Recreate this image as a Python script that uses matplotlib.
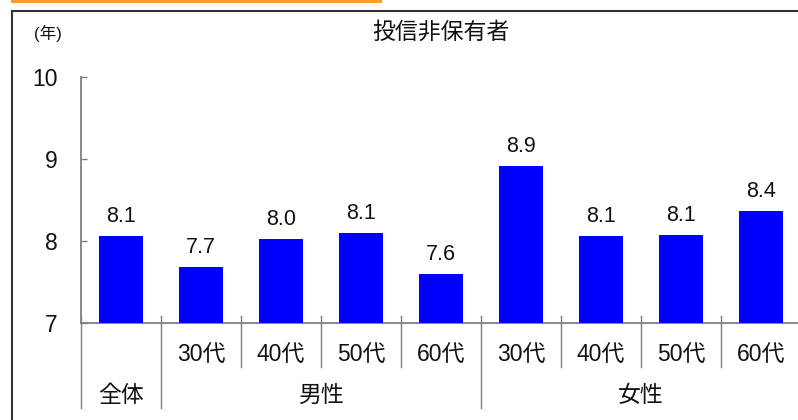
import matplotlib
matplotlib.use("Agg")
import matplotlib.pyplot as plt
from matplotlib.lines import Line2D
import matplotlib.transforms as mtransforms

plt.rcParams['font.family'] = ['Liberation Sans', 'Noto Sans CJK JP', 'DejaVu Sans']

# Data
title = "投信非保有者"
unit_label = "(年)"
age_labels = ["", "30代", "40代", "50代", "60代", "30代", "40代", "50代", "60代"]
group_labels = ["全体", "男性", "女性"]
group_spans = [(0, 0), (1, 4), (5, 8)]
values = [8.06, 7.68, 8.02, 8.10, 7.60, 8.91, 8.06, 8.07, 8.37]
y_ticks = [7, 8, 9, 10]

W, H, DPI = 798, 420, 100
fig = plt.figure(figsize=(W / DPI, H / DPI), dpi=DPI)

# Axes area in pixel terms
ax_left, ax_right, ax_top, ax_bottom = 81, 801, 77, 323
ax = fig.add_axes([ax_left / W, (H - ax_bottom) / H,
                   (ax_right - ax_left) / W, (ax_bottom - ax_top) / H])

x = list(range(len(values)))
ax.bar(x, [v - 7 for v in values], bottom=7, width=0.56, color='#0000FF', zorder=3)

for xi, v in zip(x, values):
    ax.annotate(f"{v:.1f}", (xi, v), xytext=(0, 10), textcoords='offset points',
                ha='center', va='baseline', fontsize=15.5, color='#111111')

ax.set_xlim(-0.5, len(values) - 0.5)
ax.set_ylim(7, 10)
ax.set_yticks(y_ticks)
ax.set_yticklabels([str(t) for t in y_ticks], fontsize=16.5)
ax.set_xticks([])

for s in ['top', 'right']:
    ax.spines[s].set_visible(False)
for s in ['left', 'bottom']:
    ax.spines[s].set_color('#808080')
    ax.spines[s].set_linewidth(1.3)
ax.tick_params(axis='y', direction='in', length=4.5, width=1, color='#808080',
               pad=17, labelcolor='#111111')

# Category separators below the axis
trans = mtransforms.blended_transform_factory(ax.transData, ax.transAxes)
short_bottom = -0.179
long_bottom = -0.3455
tick_top = 0.0285
group_edges = set()
for a, b in group_spans:
    group_edges.add(a - 0.5)
    group_edges.add(b + 0.5)
for i in range(len(values) + 1):
    xe = i - 0.5
    yb = long_bottom if xe in group_edges else short_bottom
    ax.add_line(Line2D([xe, xe], [tick_top, yb], transform=trans, color='#808080',
                       lw=1.0, clip_on=False))

for xi, lab in zip(x, age_labels):
    if lab:
        ax.text(xi, -0.130, lab, transform=trans, ha='center', va='center',
                fontsize=16.5, color='#111111')
for lab, (a, b) in zip(group_labels, group_spans):
    ax.text((a + b) / 2, -0.293, lab, transform=trans, ha='center', va='center',
            fontsize=16.5, color='#111111')

# Title and unit
fig.text(441 / W, (H - 32) / H, title, ha='center', va='center', fontsize=16.5,
         color='#111111')
fig.text(48 / W, (H - 33) / H, unit_label, ha='center', va='center', fontsize=12,
         color='#111111')

# Frame around the chart and accent bar at the top
fig.add_artist(Line2D([12 / W, 12 / W], [0, (H - 11) / H], transform=fig.transFigure,
                      color='#333333', lw=1.5))
fig.add_artist(Line2D([12 / W, 1], [(H - 11) / H, (H - 11) / H], transform=fig.transFigure,
                      color='#333333', lw=1.5))
fig.add_artist(plt.Rectangle((11 / W, (H - 3) / H), (382 - 11) / W, 3 / H,
                             transform=fig.transFigure, color='#F99D31', lw=0))

fig.savefig("out.png", dpi=DPI)
